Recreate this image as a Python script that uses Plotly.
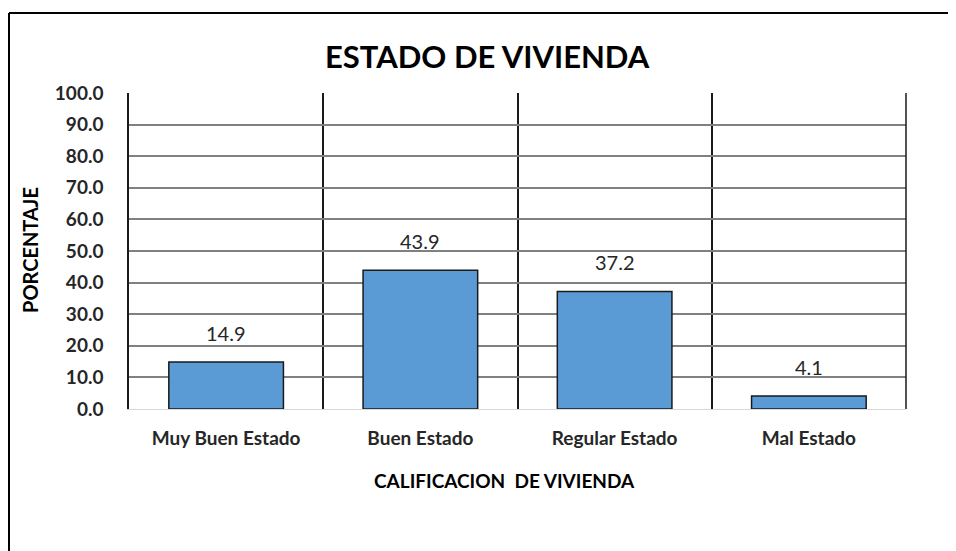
import plotly.graph_objects as go

categories = ["Muy Buen Estado", "Buen Estado", "Regular Estado", "Mal Estado"]
values = [14.9, 43.9, 37.2, 4.1]
tick_vals = [0, 10, 20, 30, 40, 50, 60, 70, 80, 90, 100]
tick_text = [f"{v:.1f}" for v in tick_vals]

OFF = 8  # page body margin
W, H = 956 - OFF, 551 - OFF
L, R, T, B = 129 - OFF, 906 - OFF, 93 - OFF, 409 - OFF

def px(x):
    return (x - OFF - L) / (R - L)

def py(y):
    return (B - (y - OFF)) / (B - T)

FONT = "Lato"

fig = go.Figure()
fig.add_trace(go.Bar(
    x=categories, y=values,
    marker=dict(color="#5B9BD5", line=dict(color="#1a1a1a", width=1.5)),
    width=0.59,
    hoverinfo="x+y",
))

for c, v in zip(categories, values):
    fig.add_annotation(x=c, y=v, text=f"{v:.1f}", showarrow=False,
                       yanchor="bottom", yshift=15,
                       font=dict(family=FONT, size=20, color="#262626"))

fig.update_layout(
    width=W, height=H,
    margin=dict(l=L, r=W - R, t=T, b=H - B),
    paper_bgcolor="white", plot_bgcolor="white",
    showlegend=False,
    xaxis=dict(
        type="category", tickson="boundaries", showgrid=True,
        gridcolor="#1a1a1a", gridwidth=1.5,
        showline=True, linecolor="#d9d9d9", linewidth=1,
        ticks="", tickfont=dict(family=FONT, size=19, color="#262626", weight="bold"),
        range=[-0.5, 3.5], ticklabelstandoff=12,
    ),
    yaxis=dict(
        range=[0, 100], tickvals=tick_vals, ticktext=tick_text,
        showgrid=True, gridcolor="#808080", gridwidth=1.5,
        showline=True, linecolor="#1a1a1a", linewidth=1.5,
        zeroline=False, ticks="",
        tickfont=dict(family=FONT, size=19, color="#262626", weight="bold"),
        ticklabelstandoff=20,
    ),
    font=dict(family=FONT),
)

# right border of plot area
fig.add_shape(type="line", xref="paper", yref="paper", x0=1, x1=1, y0=0, y1=1,
              line=dict(color="#1a1a1a", width=1.5))

# outer chart frame (left and top edges visible)
fig.add_shape(type="line", xref="paper", yref="paper",
              x0=px(9), x1=px(9), y0=py(600), y1=py(13),
              line=dict(color="#000000", width=2))
fig.add_shape(type="line", xref="paper", yref="paper",
              x0=px(9), x1=px(1000), y0=py(13), y1=py(13),
              line=dict(color="#000000", width=2))

fig.add_annotation(text="ESTADO DE VIVIENDA", xref="paper", yref="paper",
                   x=px(487), y=py(56), showarrow=False, xanchor="center", yanchor="middle",
                   font=dict(family=FONT, size=31, color="#000000", weight="bold"))
fig.add_annotation(text="CALIFICACION  DE VIVIENDA", xref="paper", yref="paper",
                   x=px(504), y=py(480), showarrow=False, xanchor="center", yanchor="middle",
                   font=dict(family=FONT, size=19, color="#000000", weight="bold"))
fig.add_annotation(text="PORCENTAJE", xref="paper", yref="paper",
                   x=px(30), y=py(250), showarrow=False, xanchor="center", yanchor="middle",
                   textangle=-90,
                   font=dict(family=FONT, size=20, color="#000000", weight="bold"))

fig.write_html("out.html")
